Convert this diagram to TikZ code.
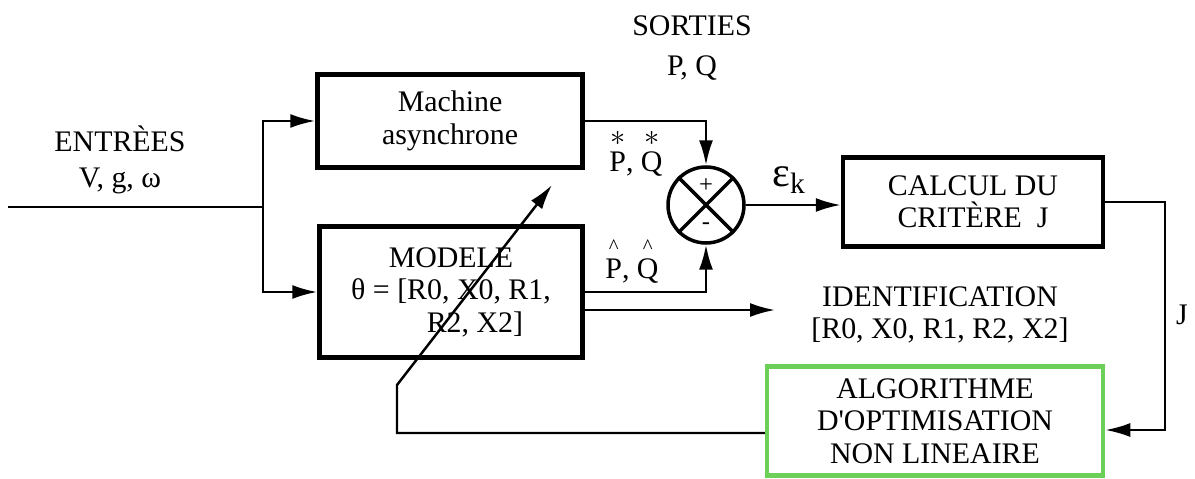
\documentclass[tikz,border=0pt]{standalone}
\usepackage{fontspec}
\setmainfont{Liberation Serif}
\usepackage{amsmath}
\usepackage{xcolor}
\usetikzlibrary{positioning,arrows.meta}
\definecolor{algogreen}{RGB}{108,208,88}
\newcommand{\aster}[1]{\ensuremath{\overset{\textstyle *}{\text{#1}}}}
\newcommand{\chap}[1]{\ensuremath{\overset{\text{\^{}}}{\text{#1}}}}

\begin{document}
\begin{tikzpicture}[x=0.02cm,y=-0.02cm,font=\fontsize{17}{18.5}\selectfont,>={Latex[length=0.5cm,width=0.28cm]}]
    \tikzset{b/.style={draw,line width=2.6pt,align=center,inner sep=2pt},
             ar/.style={->,line width=1.4pt},
             ln/.style={line width=1.4pt}}
    \useasboundingbox (0,0) rectangle (1195,479);
    \node[b,minimum width=5.3cm,minimum height=1.86cm] (mach) at (450,121) {Machine\\asynchrone};
    \node[b,minimum width=5.26cm,minimum height=2.62cm] (mod) at (451,292) {MODELE\\θ = [R0, X0, R1,\\\hspace*{1.6em}R2, X2]};
    \node[draw,circle,line width=2pt,minimum size=1.52cm,inner sep=0pt] (sum) at (706,205) {};
    \node[b,minimum width=5.2cm,minimum height=1.78cm] (calc) at (973,202) {CALCUL DU\\CRITÈRE~~J};
    \node[b,draw=algogreen,minimum width=6.72cm,minimum height=2.18cm] (algo) at (935,421) {ALGORITHME\\D\textquotesingle OPTIMISATION\\NON LINEAIRE};
    \node[align=center] (ent) at (120,160) {ENTRÈES\\[2pt]V, g, ω};
    \node[align=center] (sort) at (692,48) {SORTIES\\[4pt]P, Q};
    \node (pq1) at (636,152) {\aster{P}, \aster{Q}};
    \node (pq2) at (632,260) {\chap{P}, \chap{Q}};
    \node[font=\fontsize{24}{26}\selectfont] (eps) at (789,180) {ε\textsubscript{k}};
    \node[align=center] (ident) at (940,315) {IDENTIFICATION\\{}[R0, X0, R1, R2, X2]};
    \node (jlab) at (1182,315) {J};
    \node[font=\fontsize{14}{15}\selectfont] (plus) at (706,186) {+};
    \node[font=\fontsize{14}{15}\selectfont] (minus) at (706,226) {-};
    \draw[line width=2pt] (sum.north west) -- (sum.south east) (sum.north east) -- (sum.south west);
    % entrees
    \coordinate (in) at (8,207);
    \coordinate (sp) at (263,207);
    \draw[ln] (in) -- (sp);
    \foreach \t in {mach,mod} \draw[ar] (sp) |- (\t.west);
    % sorties
    \draw[ar] (mach.east) -| (sum.north);
    \draw[ar] (mod.east) -| (sum.south);
    \coordinate (idt) at (775,310);
    \draw[ar] (mod.east |- idt) -- (idt);
    \draw[ar] (sum.east) -- (calc.west |- sum.east);
    \coordinate (jin) at (1165,430);
    \draw[ar] (calc.east) -| (jin) -- (algo.east |- jin);
    % retour
    \coordinate (fb) at (397,433);
    \coordinate (fk) at (397,385);
    \coordinate (ftip) at (552,185);
    \draw[ar] (algo.west |- fb) -- (fb) -- (fk) -- (ftip);
\end{tikzpicture}
\end{document}
